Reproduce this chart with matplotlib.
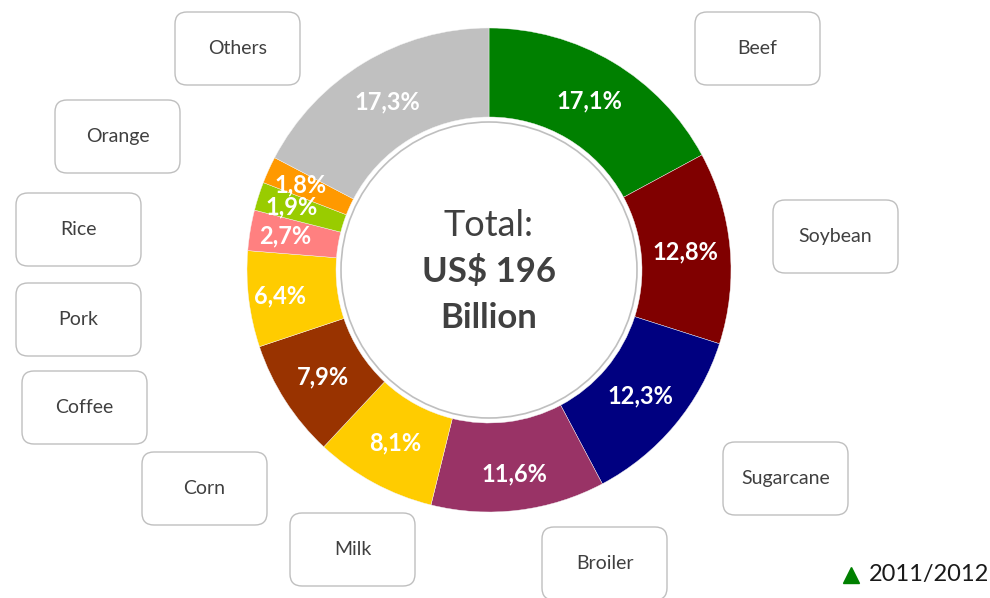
import matplotlib
matplotlib.use("Agg")
import matplotlib.pyplot as plt
from matplotlib.patches import FancyBboxPatch, Circle
import numpy as np

# ---- data ----
categories = ["Beef", "Soybean", "Sugarcane", "Broiler", "Milk", "Corn",
              "Coffee", "Pork", "Rice", "Orange", "Others"]
shares = [17.1, 12.8, 12.3, 11.6, 8.1, 7.9, 6.4, 2.7, 1.9, 1.8, 17.3]
colors = ["#008000", "#800000", "#000080", "#993366", "#FFCC00", "#993300",
          "#FFCC00", "#FF8080", "#99CC00", "#FF9900", "#C0C0C0"]
center_lines = ["Total:", "US$ 196", "Billion"]
legend_label = "2011/2012"

# ---- styles / layout ----
FONT = ["Lato", "DejaVu Sans"]
plt.rcParams["font.family"] = FONT
TEXT_GRAY = "#404040"
W, H = 990, 598
CX, CY, R_OUT, R_IN = 489, 270, 242, 153
# label radius for each wedge (px)
LABEL_R = [197, 197, 197, 205, 197, 197, 211, 207, 207, 207, 197]
# box positions (left, top) in px
BOX_POS = {"Others": (175, 12), "Beef": (695, 12), "Orange": (55, 100),
           "Soybean": (773, 200), "Rice": (16, 193), "Pork": (16, 283),
           "Coffee": (22, 371), "Sugarcane": (723, 442), "Corn": (142, 452),
           "Milk": (290, 513), "Broiler": (542, 527)}
BOX_W, BOX_H = 125, 73

fig = plt.figure(figsize=(W / 100, H / 100), dpi=100)
ax = fig.add_axes([0, 0, 1, 1])

wedges, _ = ax.pie(shares, colors=colors, startangle=-90, counterclock=True,
                   center=(CX, CY), radius=R_OUT, frame=True,
                   wedgeprops=dict(width=R_OUT - R_IN, edgecolor="#F4F4F4",
                                   linewidth=0.3))
ax.set_xlim(0, W)
ax.set_ylim(H, 0)
ax.set_aspect("equal")
ax.axis("off")

for w, val, r in zip(wedges, shares, LABEL_R):
    mid = np.deg2rad((w.theta1 + w.theta2) / 2)
    x = CX + r * np.cos(mid)
    y = CY + r * np.sin(mid)
    ax.text(x, y, f"{val:.1f}%".replace(".", ","), color="white",
            fontsize=17, fontweight="bold", ha="center", va="center")

ax.add_patch(Circle((CX, CY), 148, facecolor="white", edgecolor="#BFBFBF",
                    linewidth=1.2, zorder=3))
ax.text(CX, 226, center_lines[0], fontsize=26, color=TEXT_GRAY,
        ha="center", va="center", zorder=4)
ax.text(CX, 272, center_lines[1], fontsize=25, color=TEXT_GRAY,
        fontweight="bold", ha="center", va="center", zorder=4)
ax.text(CX, 318, center_lines[2], fontsize=25, color=TEXT_GRAY,
        fontweight="bold", ha="center", va="center", zorder=4)

for cat in categories:
    x0, y0 = BOX_POS[cat]
    ax.add_patch(FancyBboxPatch((x0, y0), BOX_W, BOX_H,
                                boxstyle="round,pad=0,rounding_size=12",
                                facecolor="white", edgecolor="#BFBFBF",
                                linewidth=1.0, zorder=2))
    ax.text(x0 + BOX_W / 2, y0 + BOX_H / 2, cat, fontsize=14, color=TEXT_GRAY,
            ha="center", va="center", zorder=3)

ax.plot([851], [575], marker="^", markersize=12, color="#008000",
        linestyle="none")
ax.text(869, 575, legend_label, fontsize=17, color="#1A1A1A",
        ha="left", va="center")

fig.savefig("out.png", dpi=100)
